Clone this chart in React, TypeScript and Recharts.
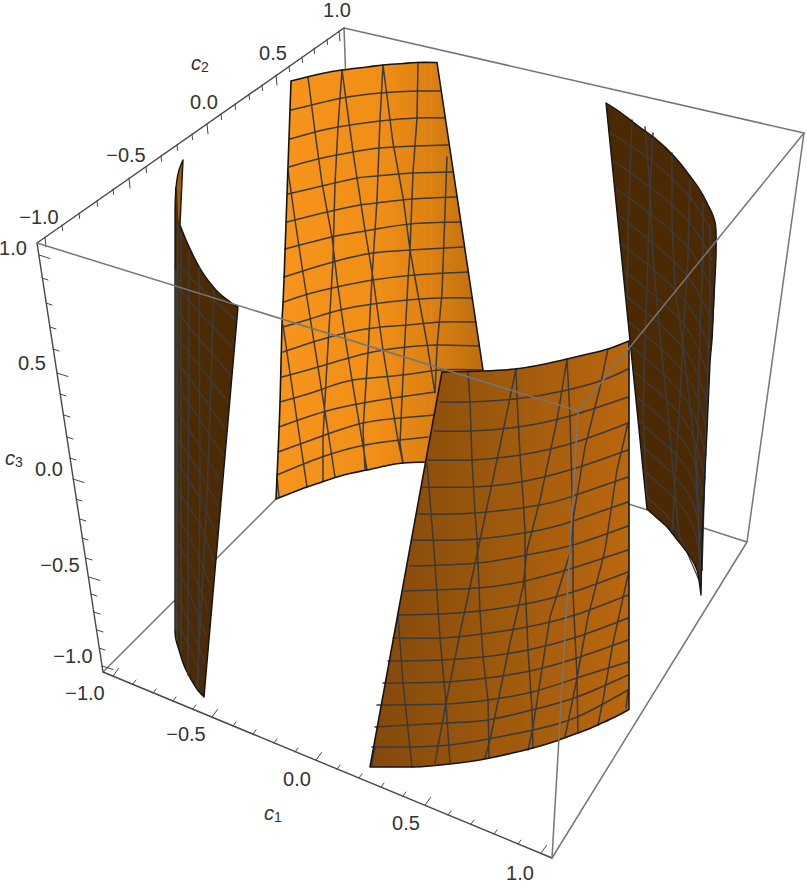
/**
 * Cylinder patches in a 3D box (projected), drawn with a ComposedChart.
 * All values in projected plot units.
 */

import { Area, ComposedChart, Line, Scatter, XAxis, YAxis } from 'recharts';

type Pt = [number, number];

/* ------------------------------------------------------------------ */
/* Constants                                                           */
/* ------------------------------------------------------------------ */

const WIDTH = 807;
const HEIGHT = 887;
const AXIS_DARK = '#474747';
const BOX_GREY = '#767676';
const MESH = '#3a3a3a';
const MESH_DARK = '#3c3c3c';
const EDGE = '#141414';
const TEXT = '#333333';

/* ------------------------------------------------------------------ */
/* Box                                                                 */
/* ------------------------------------------------------------------ */

const boxBehind: Pt[][] = [
  [[344, 28], [358, 417]],
  [[358, 417], [103, 672]],
  [[358, 417], [747, 542]],
  [[344, 28], [804, 133]],
  [[804, 133], [747, 542]],
  [[747, 542], [552, 858]],
];
const boxInFront: Pt[][] = [
  [[37, 243], [578, 411]],
  [[578, 411], [804, 133]],
  [[578, 411], [552, 858]],
];
const axisEdges: Pt[][] = [
  [[37, 243], [344, 28]],
  [[37, 243], [103, 672]],
  [[103, 672], [552, 858]],
];

/* ------------------------------------------------------------------ */
/* Ticks                                                               */
/* ------------------------------------------------------------------ */

const c1TickX = [113, 133, 153, 173, 193, 212, 233, 253, 274, 295, 316, 337, 359, 381, 403, 425, 448, 471, 494, 518, 541];
const c1TickY = [676, 684, 693, 701, 709, 717, 726, 734, 743, 752, 760, 769, 778, 787, 796, 805, 815, 824, 834, 844, 853];
const c2TickX = [45, 62, 79, 97, 113, 129, 146, 161, 177, 192, 207, 221, 235, 249, 262, 276, 289, 302, 314, 327, 339];
const c2TickY = [237, 225, 213, 201, 189, 178, 167, 156, 145, 134, 124, 114, 104, 94, 85, 75, 66, 57, 48, 39, 31];
const c3TickX = [39, 42, 46, 50, 53, 57, 60, 64, 67, 70, 73, 76, 80, 82, 86, 89, 91, 94, 97, 99, 102];
const c3TickY = [255, 278, 303, 327, 349, 373, 394, 415, 437, 458, 479, 499, 519, 538, 558, 577, 594, 612, 630, 648, 666];

const tickLabels = ['\u22121.0', '\u22120.5', '0.0', '0.5', '1.0'];
const c1LabelX = [85, 186, 297, 406, 520];
const c1LabelY = [693, 734, 779, 823, 873];
const c2LabelX = [39, 126, 204, 273, 337];
const c2LabelY = [217, 155, 102, 53, 10];
const c3LabelX = [73, 60, 49, 32, 13];
const c3LabelY = [656, 565, 469, 363, 248];

const axisNames = ['1', '2', '3'];
const axisNameX = [273, 200, 14];
const axisNameY = [813, 63, 458];

/* ------------------------------------------------------------------ */
/* Back patch                                                          */
/* ------------------------------------------------------------------ */

const backX = [276, 280, 282, 284, 291, 307, 322, 337, 342, 352, 367, 385, 403, 417, 427, 437, 440, 450, 460, 472, 483];
const backTop = [499, 403, 323, 280, 81, 77, 73.5, 71, 70, 68.5, 67, 65, 63.5, 62.5, 62.5, 62.5, 83, 151, 213, 300, 370];
const backBottom = [499, 497.5, 497, 496, 493.5, 487, 482, 477, 476, 473, 470, 466, 463, 462.5, 462, 445, 441, 425, 408, 388, 372];
const backEdges: Pt[][] = [
  [[291, 81], [307, 77], [322, 73.5], [342, 70], [367, 67], [383, 65], [403, 63.5], [417, 62.5], [437, 62.5]],
  [[276, 499], [290, 493.5], [307, 487], [322, 482], [337, 477], [352, 473], [367, 470], [385, 466], [403, 463], [427, 462]],
  [[437, 62.5], [483, 370]],
  [[291, 81], [284, 280], [282, 323], [280, 403], [276, 499]],
];

const backArcs: Pt[][] = [
  [[291, 110], [312, 105], [342, 98], [380, 93], [417, 91], [440, 91]],
  [[290, 139], [315, 132], [338, 127], [380, 121], [417, 118], [444, 118]],
  [[289, 167], [318, 159], [353, 152], [380, 148], [415, 146], [448, 145]],
  [[288, 194], [322, 186], [357, 178], [377, 176], [413, 173], [453, 172]],
  [[287, 222], [327, 212], [360, 205], [377, 203], [412, 199], [456, 197]],
  [[285, 249], [332, 237], [365, 231], [410, 224], [460, 222]],
  [[284, 277], [333, 262], [373, 253], [410, 250], [463, 247]],
  [[284, 302], [308, 294], [337, 287], [373, 280], [415, 275], [468, 272]],
  [[283, 327], [310, 319], [340, 310], [373, 304], [408, 300], [440, 298], [472, 298]],
  [[283, 352], [330, 337], [373, 328], [408, 325], [440, 322], [476, 322]],
  [[282, 377], [318, 367], [368, 353], [408, 347], [437, 345], [479, 346]],
  [[280, 402], [320, 390], [353, 380], [403, 375], [440, 370], [483, 370]],
  [[279, 427], [323, 412], [363, 403], [400, 397], [435, 392]],
  [[278, 452], [325, 435], [363, 423], [400, 418], [435, 415]],
  [[277, 475], [322, 457], [365, 445], [400, 440], [428, 437]],
];
const backRibs: Pt[][] = [
  [[288, 170], [295, 220], [303, 273], [318, 367], [325, 412], [335, 477]],
  [[283, 325], [290, 373], [297, 420], [307, 487]],
  [[308, 77], [315, 132], [322, 183], [332, 237], [337, 280], [345, 337], [352, 380], [367, 470]],
  [[342, 70], [338, 127], [335, 183], [333, 260], [327, 363], [323, 437], [323, 481]],
  [[342, 70], [353, 152], [365, 230], [373, 278], [383, 350], [398, 440], [403, 463]],
  [[383, 65], [380, 120], [377, 200], [372, 277], [368, 353], [363, 430], [365, 470]],
  [[383, 65], [393, 143], [403, 197], [410, 250], [415, 278], [427, 343], [435, 393]],
  [[418, 63], [417, 118], [413, 173], [410, 250], [408, 280], [403, 377], [400, 443], [403, 463]],
  [[447, 157], [442, 293], [437, 347], [435, 393]],
  [[277, 477], [279, 497]],
];

/* ------------------------------------------------------------------ */
/* Left patch                                                          */
/* ------------------------------------------------------------------ */

const slotX = [176, 177, 178, 180, 181, 182, 183];
const slotTop = [185, 179, 175, 167, 164, 162, 160];
const slotBottom = [225, 225, 225, 225, 203, 182, 160];

const leftX = [175, 177, 178, 179, 180, 183, 186, 188, 193, 198, 201, 204, 210, 220, 230, 233, 238];
const leftTop = [186, 190, 215, 222, 225, 232, 240, 244, 255, 265, 270, 274, 283, 294, 301, 304, 307];
const leftBottom = [633, 643, 646, 650, 654, 663, 670, 674, 683, 690.5, 694, 697, 628, 513, 399, 365, 307];
const leftEdges: Pt[][] = [
  [[183, 160], [179, 170], [176.5, 183], [175.5, 195], [175, 210]],
  [[175, 210], [175, 633]],
  [[175, 633], [176, 640], [179, 650], [183, 663], [188, 674], [193, 683], [198, 690.5], [204, 697]],
  [[204, 697], [238, 307]],
  [[183, 160], [181, 203], [180, 225]],
  [[180, 225], [186, 240], [193, 255], [201, 270], [210, 283], [220, 294], [233, 304], [238, 307]],
];

const leftArcs: Pt[][] = [
  [[176, 262], [200, 287], [236, 320]],
  [[176, 285], [200, 313], [233, 347]],
  [[176, 310], [200, 340], [231, 375]],
  [[176, 335], [200, 367], [228, 402]],
  [[176, 360], [200, 393], [225, 428]],
  [[176, 385], [200, 420], [223, 455]],
  [[176, 410], [200, 447], [220, 480]],
  [[176, 436], [200, 473], [218, 506]],
  [[176, 462], [200, 498], [215, 533]],
  [[176, 488], [200, 525], [213, 560]],
  [[176, 514], [195, 548], [210, 585]],
  [[176, 540], [193, 572], [208, 610]],
  [[176, 566], [190, 595], [206, 635]],
  [[176, 592], [187, 618], [204, 660]],
  [[176, 618], [186, 640], [203, 680]],
];
const leftRibs: Pt[][] = [
  [[176, 270], [176, 630]],
  [[178, 225], [177, 640]],
  [[181, 232], [181, 652]],
  [[189, 250], [188, 675]],
  [[199, 268], [200, 480], [198, 688]],
  [[214, 290], [207, 500], [197, 685]],
];

/* ------------------------------------------------------------------ */
/* Right patch                                                         */
/* ------------------------------------------------------------------ */

const rightX = [606, 620, 633, 645, 647, 657, 667, 669, 675, 680, 683, 690, 691, 697, 699, 700, 701, 703, 707, 710, 712, 714, 715, 716];
const rightTop = [103, 112, 122, 131, 133, 140, 148, 151, 157, 163, 167, 176, 177, 186, 189, 190, 192, 195, 203, 209, 213, 219, 222, 230];
const rightBottom = [103, 241, 370, 489, 509, 518, 527, 529, 537, 543, 547, 556, 558, 570, 580, 588, 595, 517, 430, 363, 340, 310, 285, 257];
const rightEdges: Pt[][] = [
  [[606, 103], [620, 112], [633, 122], [645, 131], [657, 140], [669, 151], [680, 163], [690, 176], [700, 190], [707, 203], [712, 213], [715, 222], [716, 230]],
  [[716, 230], [716, 257], [714, 297], [712, 340], [710, 363], [707, 430], [703, 517], [701, 595]],
  [[701, 595], [699, 580], [697, 570], [691, 558], [683, 547], [675, 537], [667, 527], [657, 518], [647, 509]],
  [[647, 509], [606, 103]],
];

const rightArcs: Pt[][] = [
  [[609, 132], [648, 158], [690, 197], [710, 230]],
  [[612, 160], [650, 187], [690, 223], [712, 260]],
  [[615, 188], [652, 215], [690, 250], [712, 290]],
  [[618, 215], [652, 242], [688, 277], [712, 320]],
  [[620, 243], [654, 270], [688, 305], [711, 350]],
  [[623, 270], [655, 296], [688, 330], [709, 378]],
  [[626, 296], [656, 321], [688, 355], [708, 405]],
  [[629, 322], [657, 345], [689, 380], [707, 430]],
  [[632, 347], [658, 369], [689, 405], [706, 455]],
  [[634, 372], [659, 393], [689, 428], [705, 478]],
  [[637, 397], [660, 417], [689, 450], [704, 500]],
  [[639, 421], [660, 440], [689, 472], [703, 522]],
  [[642, 445], [660, 462], [689, 495], [702, 545]],
  [[644, 470], [660, 485], [689, 518], [702, 570]],
  [[647, 497], [658, 507], [675, 527], [701, 585]],
];
const rightRibs: Pt[][] = [
  [[632, 120], [628, 230], [627, 300]],
  [[645, 127], [650, 190], [653, 257], [660, 337], [668, 413], [677, 517], [680, 540]],
  [[653, 133], [650, 190], [647, 290], [645, 337], [643, 413], [647, 497]],
  [[672, 153], [672, 223], [675, 290], [682, 337], [695, 450], [700, 570]],
  [[690, 180], [688, 257], [683, 337], [680, 397], [673, 517], [672, 533]],
  [[703, 203], [703, 257], [700, 330], [697, 463], [701, 580]],
  [[710, 225], [710, 300], [706, 430], [702, 570]],
];

/* ------------------------------------------------------------------ */
/* Front patch                                                         */
/* ------------------------------------------------------------------ */

const frontX = [370, 390, 413, 430, 442, 450, 470, 483, 490, 515, 533, 540, 550, 567, 578, 590, 600, 608, 615, 628, 629];
const frontTop = [767, 657, 531, 438, 372, 372, 371.5, 371, 370.5, 369, 366, 365, 363, 359, 356.5, 353.5, 351, 349, 346, 341.5, 341];
const frontBottom = [767, 767, 767, 766, 765, 764, 761.5, 759.5, 758, 752.5, 748, 746, 743, 737, 733, 728.5, 724, 720.5, 717, 710, 709.5];
const frontEdges: Pt[][] = [
  [[442, 372], [483, 371], [515, 369], [540, 365], [567, 359], [590, 353.5], [608, 349], [629, 341]],
  [[370, 767], [390, 767], [413, 767], [430, 766], [450, 764], [470, 761.5], [490, 758], [515, 752.5], [533, 748], [550, 743], [567, 737], [578, 733], [590, 728.5], [600, 724], [615, 717], [629, 709.5]],
  [[629, 341], [629, 709.5]],
  [[370, 767], [442, 372]],
];

const frontArcs: Pt[][] = [
  [[440, 402], [470, 402], [515, 399], [563, 391], [603, 380], [628, 369]],
  [[434, 431], [470, 431], [518, 427], [570, 416], [628, 397]],
  [[428, 460], [472, 460], [520, 455], [573, 443], [628, 423]],
  [[423, 487], [473, 487], [520, 482], [573, 469], [628, 450]],
  [[418, 514], [475, 513], [540, 505], [573, 496], [628, 477]],
  [[412, 540], [477, 539], [540, 530], [573, 521], [628, 502]],
  [[410, 566], [478, 563], [527, 555], [573, 545], [628, 526]],
  [[404, 591], [478, 588], [525, 581], [573, 568], [628, 550]],
  [[398, 615], [440, 614], [480, 611], [525, 604], [573, 592], [628, 572]],
  [[393, 638], [440, 638], [482, 634], [527, 627], [575, 615], [628, 595]],
  [[388, 661], [442, 660], [483, 657], [528, 650], [577, 637], [628, 618]],
  [[383, 683], [443, 682], [487, 678], [530, 671], [577, 658], [628, 640]],
  [[377, 705], [446, 704], [488, 700], [532, 692], [577, 678], [628, 662]],
  [[375, 727], [447, 723], [488, 720], [532, 710], [577, 697], [628, 675]],
  [[372, 747], [410, 747], [450, 745], [488, 739], [533, 730], [577, 717], [628, 690]],
];
const frontRibs: Pt[][] = [
  [[468, 372], [470, 402], [472, 460], [475, 513], [477, 539], [478, 563], [480, 611], [483, 657], [488, 700], [489, 758]],
  [[516, 369], [497, 460], [480, 540], [460, 633], [446, 703], [435, 763]],
  [[516, 369], [517, 397], [520, 455], [523, 497], [525, 530], [525, 581], [528, 650], [532, 710], [533, 748]],
  [[567, 359], [557, 420], [540, 500], [527, 550], [523, 587], [510, 643], [490, 740], [485, 758]],
  [[567, 359], [570, 417], [572, 493], [573, 521], [573, 593], [577, 677], [578, 733]],
  [[608, 349], [600, 387], [585, 447], [573, 520], [570, 553], [550, 617], [533, 727], [528, 750]],
  [[628, 423], [617, 470], [605, 550], [588, 617], [577, 678], [565, 737]],
  [[628, 575], [613, 643], [603, 700], [598, 725]],
  [[628, 690], [626, 708]],
  [[398, 617], [403, 683], [412, 767]],
  [[375, 747], [372, 765]],
  [[427, 463], [434, 550], [440, 638], [446, 704], [450, 763]],
];

/* ------------------------------------------------------------------ */
/* Helpers                                                             */
/* ------------------------------------------------------------------ */

// many polylines in one series, a null row breaks the path
function toRows(lines: Pt[][]) {
  return lines.flatMap((pts) => [
    ...pts.map(([x, y]) => ({ x, y })),
    { x: pts[pts.length - 1][0], y: null as number | null },
  ]);
}

function toRange(xs: number[], top: number[], bottom: number[]) {
  return xs.map((x, i) => ({ x, range: [bottom[i], top[i]] }));
}

function labelRows(xs: number[], ys: number[], labels: string[]) {
  return xs.map((x, i) => ({ x, y: ys[i], label: labels[i] }));
}

function tickSegments(): Pt[][] {
  const build = (xs: number[], ys: number[], minor: Pt, major: Pt) =>
    xs.map((x, i): Pt[] => {
      const d = i % 5 === 0 ? major : minor;
      return [[x, ys[i]], [x + d[0], ys[i] + d[1]]];
    });
  return [
    ...build(c1TickX, c1TickY, [3, -4], [5.5, -7.5]),
    ...build(c2TickX, c2TickY, [0.6, 5.5], [1, 10]),
    ...build(c3TickX, c3TickY, [6, 2], [11, 3.5]),
  ];
}

function TickText({ cx, cy, payload }: any) {
  return (
    <text x={cx} y={cy} textAnchor="middle" dominantBaseline="central" fontSize={20} fill={TEXT} fontFamily="Liberation Sans">
      {payload.label}
    </text>
  );
}

function AxisName({ cx, cy, payload }: any) {
  return (
    <text x={cx} y={cy} textAnchor="middle" dominantBaseline="central" fontSize={20} fill={TEXT} fontFamily="Liberation Sans">
      <tspan fontStyle="italic">c</tspan>
      <tspan fontSize={14} dy={4}>{payload.label}</tspan>
    </text>
  );
}

let layer = 10;
function path(lines: Pt[][], stroke: string, strokeWidth: number, curve: 'linear' | 'natural' = 'linear') {
  layer += 1;
  return (
    <Line
      key={layer}
      type={curve}
      data={toRows(lines)}
      dataKey="y"
      stroke={stroke}
      strokeWidth={strokeWidth}
      strokeLinecap="round"
      dot={false}
      activeDot={false}
      legendType="none"
      isAnimationActive={false}
      zIndex={layer}
    />
  );
}

function patch(xs: number[], top: number[], bottom: number[], fill: string) {
  layer += 1;
  return (
    <Area
      key={layer}
      data={toRange(xs, top, bottom)}
      dataKey="range"
      stroke="none"
      fill={fill}
      fillOpacity={1}
      dot={false}
      activeDot={false}
      legendType="none"
      isAnimationActive={false}
      zIndex={layer}
    />
  );
}

/* ------------------------------------------------------------------ */
/* App                                                                 */
/* ------------------------------------------------------------------ */

export default function App() {
  layer = 10;
  return (
    <div style={{ width: WIDTH, height: HEIGHT, background: '#fff' }}>
      <style>{'body{margin:0}'}</style>
      <ComposedChart width={WIDTH} height={HEIGHT} margin={{ top: 0, right: 0, bottom: 0, left: 0 }}>
        <defs>
          <linearGradient id="backFill" gradientUnits="userSpaceOnUse" x1="276" x2="483" y1="0" y2="0">
            <stop offset="0" stopColor="#f8941b" />
            <stop offset="0.5" stopColor="#f08e16" />
            <stop offset="0.75" stopColor="#dc8112" />
            <stop offset="1" stopColor="#bd6d0e" />
          </linearGradient>
          <linearGradient id="frontFill" gradientUnits="userSpaceOnUse" x1="370" x2="629" y1="0" y2="0">
            <stop offset="0" stopColor="#84480b" />
            <stop offset="0.4" stopColor="#98560c" />
            <stop offset="1" stopColor="#ba670e" />
          </linearGradient>
        </defs>
        <XAxis dataKey="x" type="number" domain={[0, WIDTH]} hide allowDataOverflow />
        <YAxis dataKey="y" type="number" domain={[0, HEIGHT]} reversed hide allowDataOverflow />

        {path(boxBehind, BOX_GREY, 1.5)}
        {path(axisEdges, AXIS_DARK, 1.4)}
        {path(tickSegments(), AXIS_DARK, 1)}

        {patch(backX, backTop, backBottom, 'url(#backFill)')}
        {path(backArcs, MESH, 1.5, 'natural')}
        {path(backRibs, MESH, 1.5)}
        {path(backEdges, EDGE, 1.6, 'natural')}

        {patch(slotX, slotTop, slotBottom, '#a25a0b')}
        {patch(leftX, leftTop, leftBottom, '#4c2a03')}
        {path(leftArcs, MESH_DARK, 1.3, 'natural')}
        {path(leftEdges, EDGE, 1.4, 'natural')}
        {path(leftRibs, MESH_DARK, 1.5)}

        {patch(rightX, rightTop, rightBottom, '#4a2903')}
        {path(rightArcs, MESH_DARK, 1.3, 'natural')}
        {path(rightRibs, MESH_DARK, 1.5)}
        {path(rightEdges, EDGE, 1.4, 'natural')}

        {patch(frontX, frontTop, frontBottom, 'url(#frontFill)')}
        {path(frontArcs, MESH, 1.5, 'natural')}
        {path(frontRibs, MESH, 1.5)}
        {path(frontEdges, EDGE, 1.6, 'natural')}

        {path(boxInFront, BOX_GREY, 1.5)}

        <Scatter data={labelRows(c1LabelX, c1LabelY, tickLabels)} shape={TickText} isAnimationActive={false} zIndex={900} />
        <Scatter data={labelRows(c2LabelX, c2LabelY, tickLabels)} shape={TickText} isAnimationActive={false} zIndex={900} />
        <Scatter data={labelRows(c3LabelX, c3LabelY, tickLabels)} shape={TickText} isAnimationActive={false} zIndex={900} />
        <Scatter data={labelRows(axisNameX, axisNameY, axisNames)} shape={AxisName} isAnimationActive={false} zIndex={900} />
      </ComposedChart>
    </div>
  );
}
